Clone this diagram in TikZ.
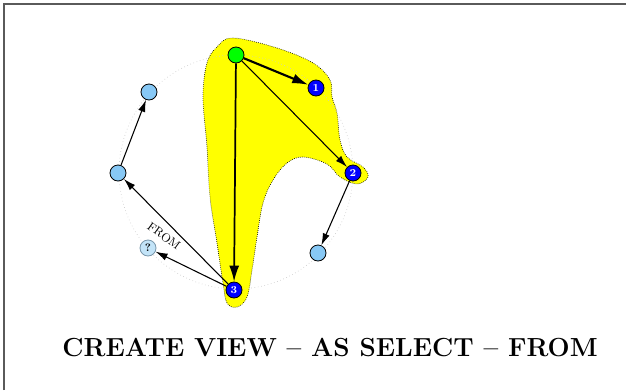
\documentclass[tikz,border=0pt]{standalone}
\usetikzlibrary{arrows.meta}
\definecolor{skyfill}{RGB}{135,200,245}
\definecolor{qfill}{RGB}{195,228,248}
\definecolor{qline}{RGB}{120,150,170}
\definecolor{framegray}{RGB}{90,90,90}
\definecolor{blobfill}{RGB}{255,255,0}
\begin{document}
\begin{tikzpicture}[x=0.75pt,y=-0.75pt,
  vert/.style={circle,draw=black,line width=0.6pt,minimum size=12pt,inner sep=0pt},
  selvert/.style={vert,fill=blue,text=white,font=\fontsize{8}{9}\selectfont\bfseries},
  plainvert/.style={vert,fill=skyfill},
  qvert/.style={vert,fill=qfill,draw=qline,font=\fontsize{8}{9}\selectfont\bfseries},
  thinarr/.style={line width=0.8pt,-{Latex[length=9pt,width=5.5pt]}},
  thickarr/.style={line width=1.3pt,-{Latex[length=12pt,width=7.5pt]}}]
\useasboundingbox (0,0) rectangle (626,390);
% frame edges
\draw[framegray,line width=1.2pt] (4,390) -- (4,4) -- (626,4);
% highlighted region
\def\blobpath{plot[smooth cycle,tension=0.6] coordinates {
  (233,38) (277,48) (313,63) (330,80) (332,97) (337,113) (340,140) (347,157)
  (363,167) (368,177) (357,184) (340,177) (327,164) (303,157) (287,163)
  (273,180) (263,203) (257,237) (252,270) (247,297) (237,307) (227,303)
  (223,283) (217,243) (210,197) (207,147) (203,97) (207,63) (217,47)}}
\fill[blobfill] \blobpath;
\draw[black,line width=0.5pt,densely dotted] \blobpath;
% guide circle
\draw[black!20,line width=0.5pt,dotted] (236,172) circle[radius=87.75pt];
% vertices
\node[vert,fill=green] (g) at (236,55) {};
\node[selvert] (s1) at (316,88) {1};
\node[selvert] (s2) at (353,173) {2};
\node[selvert] (s3) at (234,290) {3};
\node[plainvert] (a) at (318,253) {};
\node[plainvert] (b) at (118,173) {};
\node[plainvert] (c) at (149,92) {};
\node[qvert] (q) at (148,248) {?};
% edges
\draw[thickarr,line width=1.6pt] (g) -- (s1);
\draw[thickarr] (g) -- (s3);
\draw[thinarr] (g) -- (s2);
\draw[thinarr] (s2) -- (a);
\draw[thinarr] (b) -- (c);
\draw[thinarr] (s3) -- (b);
\draw[thinarr] (s3) -- (q);
\node[rotate=-36,font=\fontsize{9}{10}\selectfont] (lbl) at (164,236) {FROM};
% caption
\node[font=\fontsize{19.6}{23}\selectfont\bfseries] (title) at (330,348) {CREATE VIEW -- AS SELECT -- FROM};
\end{tikzpicture}
\end{document}
